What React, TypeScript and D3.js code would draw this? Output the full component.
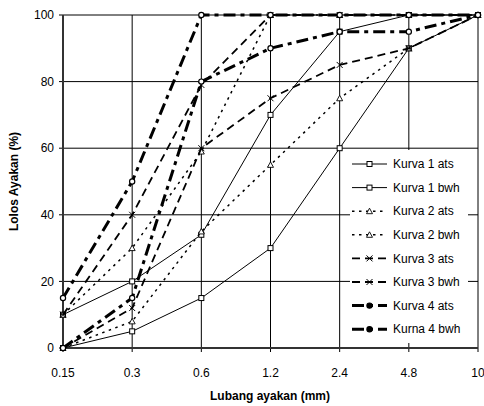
import * as d3 from "d3";

const sieves = ["0.15", "0.3", "0.6", "1.2", "2.4", "4.8", "10"];
const yTicks = [0, 20, 40, 60, 80, 100];

const kurva1Ats = [10, 20, 34, 70, 95, 100, 100];
const kurva1Bwh = [0, 5, 15, 30, 60, 90, 100];
const kurva2Ats = [10, 30, 59, 100, 100, 100, 100];
const kurva2Bwh = [0, 8, 35, 55, 75, 90, 100];
const kurva3Ats = [10, 40, 79, 100, 100, 100, 100];
const kurva3Bwh = [0, 12, 60, 75, 85, 90, 100];
const kurva4Ats = [15, 50, 100, 100, 100, 100, 100];
const kurva4Bwh = [0, 15, 80, 90, 95, 95, 100];

type Style = { dash: string; width: number; marker: "square" | "triangle" | "x" | "circle" };

const STYLE1: Style = { dash: "none", width: 1, marker: "square" };
const STYLE2: Style = { dash: "2.5,4.5", width: 1.5, marker: "triangle" };
const STYLE3: Style = { dash: "8,5", width: 1.8, marker: "x" };
const STYLE4: Style = { dash: "12,5,4,5", width: 3, marker: "circle" };

const series = [
  { name: "Kurva 1 ats", values: kurva1Ats, style: STYLE1 },
  { name: "Kurva 1 bwh", values: kurva1Bwh, style: STYLE1 },
  { name: "Kurva 2 ats", values: kurva2Ats, style: STYLE2 },
  { name: "Kurva 2 bwh", values: kurva2Bwh, style: STYLE2 },
  { name: "Kurva 3 ats", values: kurva3Ats, style: STYLE3 },
  { name: "Kurva 3 bwh", values: kurva3Bwh, style: STYLE3 },
  { name: "Kurva 4 ats", values: kurva4Ats, style: STYLE4 },
  { name: "Kurna 4 bwh", values: kurva4Bwh, style: STYLE4 },
];

const W = 484;
const H = 406;
const m = { left: 63, right: 6, top: 15, bottom: 58 };
const FONT = "Liberation Sans, Arial, sans-serif";

function Marker({ kind, cx, cy, filled }: { kind: Style["marker"]; cx: number; cy: number; filled?: boolean }) {
  if (kind === "square")
    return <rect x={cx - 2.5} y={cy - 2.5} width={5} height={5} fill="#fff" stroke="#000" strokeWidth={1} />;
  if (kind === "triangle")
    return (
      <path
        d={`M${cx},${cy - 3}L${cx + 3},${cy + 2.5}L${cx - 3},${cy + 2.5}Z`}
        fill="#fff"
        stroke="#000"
        strokeWidth={0.9}
      />
    );
  if (kind === "x")
    return (
      <path
        d={`M${cx - 3},${cy - 3}L${cx + 3},${cy + 3}M${cx - 3},${cy + 3}L${cx + 3},${cy - 3}`}
        stroke="#000"
        strokeWidth={1}
      />
    );
  return <circle cx={cx} cy={cy} r={2.6} fill={filled ? "#000" : "#fff"} stroke="#000" strokeWidth={1.2} />;
}

export default function App() {
  const x = d3.scalePoint<string>().domain(sieves).range([m.left, W - m.right]);
  const y = d3.scaleLinear().domain([0, 100]).range([H - m.bottom, m.top]);
  const x0 = x.range()[0];
  const x1 = x.range()[1];
  const y0 = y(0);

  const line = d3
    .line<number>()
    .x((_, i) => x(sieves[i]) as number)
    .y((d) => y(d));

  const legX = 350;
  const legTop = 150;
  const legStep = 23.6;

  return (
    <svg width={W} height={H} style={{ position: "fixed", left: 0, top: 0 }} fontFamily={FONT}>
      <rect width={W} height={H} fill="#fff" />
      {/* grid */}
      {yTicks.map((t) => (
        <line key={"h" + t} x1={x0 - 4} x2={x1} y1={y(t)} y2={y(t)} stroke="#000" strokeWidth={1} />
      ))}
      {sieves.map((s) => (
        <line key={"v" + s} x1={x(s)} x2={x(s)} y1={m.top} y2={y0 + 4} stroke="#000" strokeWidth={1} />
      ))}
      {/* axes */}
      <line x1={x0} x2={x0} y1={m.top} y2={y0} stroke="#333" strokeWidth={2} />
      <line x1={x0} x2={x1} y1={y0} y2={y0} stroke="#333" strokeWidth={2} />
      {yTicks.map((t) => (
        <text key={"yl" + t} x={x0 - 9} y={y(t)} dy="0.35em" textAnchor="end" fontSize={12}>
          {t}
        </text>
      ))}
      {sieves.map((s) => (
        <text key={"xl" + s} x={x(s)} y={y0 + 29} textAnchor="middle" fontSize={12}>
          {s}
        </text>
      ))}
      {/* series */}
      {series.map((s) => (
        <g key={s.name}>
          <path
            d={line(s.values) ?? ""}
            fill="none"
            stroke="#000"
            strokeWidth={s.style.width}
            strokeDasharray={s.style.dash}
          />
          {s.values.map((v, i) => (
            <Marker key={i} kind={s.style.marker} cx={x(sieves[i]) as number} cy={y(v)} />
          ))}
        </g>
      ))}
      {/* legend */}
      <rect x={legX} y={legTop} width={118} height={193} fill="#fff" />
      {series.map((s, i) => {
        const cy = legTop + 14 + i * legStep;
        return (
          <g key={"lg" + s.name}>
            <line
              x1={legX + 2}
              x2={legX + 37}
              y1={cy}
              y2={cy}
              stroke="#000"
              strokeWidth={s.style.width}
              strokeDasharray={s.style.dash}
            />
            <Marker kind={s.style.marker} cx={legX + 19.5} cy={cy} filled />
            <text x={legX + 43} y={cy} dy="0.35em" fontSize={12}>
              {s.name}
            </text>
          </g>
        );
      })}
      {/* titles */}
      <text x={270} y={400} textAnchor="middle" fontSize={12} fontWeight="bold">
        Lubang ayakan (mm)
      </text>
      <text
        transform={`translate(18,${(m.top + y0) / 2}) rotate(-90)`}
        textAnchor="middle"
        fontSize={12}
        fontWeight="bold"
      >
        Lolos Ayakan (%)
      </text>
    </svg>
  );
}
